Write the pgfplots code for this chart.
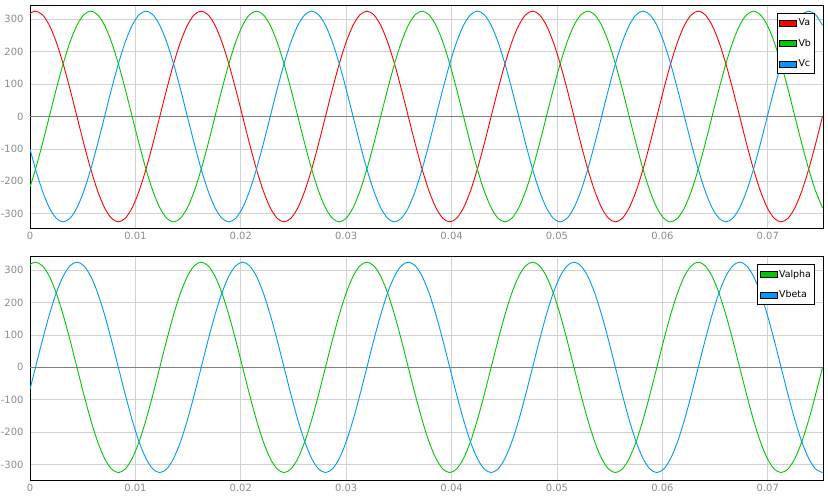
\documentclass[border=0pt]{standalone}
\usepackage{pgfplots}
\pgfplotsset{compat=1.18}
\usepackage{pgfplotstable}
\usepackage{fontspec}
\setmainfont{DejaVu Sans}
\definecolor{cred}{RGB}{255,0,0}
\definecolor{cgreen}{RGB}{0,200,0}
\definecolor{cblue}{RGB}{0,153,255}
\definecolor{tickgray}{RGB}{140,140,140}
\definecolor{gridgray}{RGB}{210,210,210}
\definecolor{zerogray}{RGB}{128,128,128}

\pgfplotstableread{
t va vb vc vbeta
0 317.9 -217.5 -100.4 -67.6
0.000524 325 -162.5 -162.5 0
0.001179 313.9 -84.1 -229.8 84.1
0.001834 281.5 0 -281.5 162.5
0.002489 229.8 84.1 -313.9 229.8
0.003144 162.5 162.5 -325 281.5
0.003799 84.1 229.8 -313.9 313.9
0.004454 0 281.5 -281.5 325
0.005109 -84.1 313.9 -229.8 313.9
0.005764 -162.5 325 -162.5 281.5
0.006419 -229.8 313.9 -84.1 229.8
0.007074 -281.5 281.5 0 162.5
0.007729 -313.9 229.8 84.1 84.1
0.008384 -325 162.5 162.5 0
0.009039 -313.9 84.1 229.8 -84.1
0.009694 -281.5 0 281.5 -162.5
0.010349 -229.8 -84.1 313.9 -229.8
0.011004 -162.5 -162.5 325 -281.5
0.011659 -84.1 -229.8 313.9 -313.9
0.012314 0 -281.5 281.5 -325
0.012969 84.1 -313.9 229.8 -313.9
0.013624 162.5 -325 162.5 -281.5
0.014279 229.8 -313.9 84.1 -229.8
0.014934 281.5 -281.5 0 -162.5
0.015589 313.9 -229.8 -84.1 -84.1
0.016244 325 -162.5 -162.5 0
0.016899 313.9 -84.1 -229.8 84.1
0.017554 281.5 0 -281.5 162.5
0.018209 229.8 84.1 -313.9 229.8
0.018864 162.5 162.5 -325 281.5
0.019519 84.1 229.8 -313.9 313.9
0.020174 0 281.5 -281.5 325
0.020829 -84.1 313.9 -229.8 313.9
0.021484 -162.5 325 -162.5 281.5
0.022139 -229.8 313.9 -84.1 229.8
0.022794 -281.5 281.5 0 162.5
0.023449 -313.9 229.8 84.1 84.1
0.024104 -325 162.5 162.5 0
0.024759 -313.9 84.1 229.8 -84.1
0.025414 -281.5 0 281.5 -162.5
0.026069 -229.8 -84.1 313.9 -229.8
0.026724 -162.5 -162.5 325 -281.5
0.027379 -84.1 -229.8 313.9 -313.9
0.028034 0 -281.5 281.5 -325
0.028689 84.1 -313.9 229.8 -313.9
0.029344 162.5 -325 162.5 -281.5
0.029999 229.8 -313.9 84.1 -229.8
0.030654 281.5 -281.5 0 -162.5
0.031309 313.9 -229.8 -84.1 -84.1
0.031964 325 -162.5 -162.5 0
0.032619 313.9 -84.1 -229.8 84.1
0.033274 281.5 0 -281.5 162.5
0.033929 229.8 84.1 -313.9 229.8
0.034584 162.5 162.5 -325 281.5
0.035239 84.1 229.8 -313.9 313.9
0.035894 0 281.5 -281.5 325
0.036549 -84.1 313.9 -229.8 313.9
0.037204 -162.5 325 -162.5 281.5
0.037859 -229.8 313.9 -84.1 229.8
0.038514 -281.5 281.5 0 162.5
0.039169 -313.9 229.8 84.1 84.1
0.039824 -325 162.5 162.5 0
0.040479 -313.9 84.1 229.8 -84.1
0.041134 -281.5 0 281.5 -162.5
0.041789 -229.8 -84.1 313.9 -229.8
0.042444 -162.5 -162.5 325 -281.5
0.043099 -84.1 -229.8 313.9 -313.9
0.043754 0 -281.5 281.5 -325
0.044409 84.1 -313.9 229.8 -313.9
0.045064 162.5 -325 162.5 -281.5
0.045719 229.8 -313.9 84.1 -229.8
0.046374 281.5 -281.5 0 -162.5
0.047029 313.9 -229.8 -84.1 -84.1
0.047684 325 -162.5 -162.5 0
0.048339 313.9 -84.1 -229.8 84.1
0.048994 281.5 0 -281.5 162.5
0.049649 229.8 84.1 -313.9 229.8
0.050304 162.5 162.5 -325 281.5
0.050959 84.1 229.8 -313.9 313.9
0.051614 0 281.5 -281.5 325
0.052269 -84.1 313.9 -229.8 313.9
0.052924 -162.5 325 -162.5 281.5
0.053579 -229.8 313.9 -84.1 229.8
0.054234 -281.5 281.5 0 162.5
0.054889 -313.9 229.8 84.1 84.1
0.055544 -325 162.5 162.5 0
0.056199 -313.9 84.1 229.8 -84.1
0.056854 -281.5 0 281.5 -162.5
0.057509 -229.8 -84.1 313.9 -229.8
0.058164 -162.5 -162.5 325 -281.5
0.058819 -84.1 -229.8 313.9 -313.9
0.059474 0 -281.5 281.5 -325
0.060129 84.1 -313.9 229.8 -313.9
0.060784 162.5 -325 162.5 -281.5
0.061439 229.8 -313.9 84.1 -229.8
0.062094 281.5 -281.5 0 -162.5
0.062749 313.9 -229.8 -84.1 -84.1
0.063404 325 -162.5 -162.5 0
0.064059 313.9 -84.1 -229.8 84.1
0.064714 281.5 0 -281.5 162.5
0.065369 229.8 84.1 -313.9 229.8
0.066024 162.5 162.5 -325 281.5
0.066679 84.1 229.8 -313.9 313.9
0.067334 0 281.5 -281.5 325
0.067989 -84.1 313.9 -229.8 313.9
0.068644 -162.5 325 -162.5 281.5
0.069299 -229.8 313.9 -84.1 229.8
0.069954 -281.5 281.5 0 162.5
0.070609 -313.9 229.8 84.1 84.1
0.071264 -325 162.5 162.5 0
0.071919 -313.9 84.1 229.8 -84.1
0.072574 -281.5 0 281.5 -162.5
0.073229 -229.8 -84.1 313.9 -229.8
0.073884 -162.5 -162.5 325 -281.5
0.074539 -84.1 -229.8 313.9 -313.9
0.075194 0 -281.5 281.5 -325
}\wave

\pgfplotsset{
  psim/.style={
    scale only axis, width=793bp, height=223bp,
    xmin=0, xmax=0.07524,
    ymin=-344, ymax=344,
    xtick={0,0.01,0.02,0.03,0.04,0.05,0.06,0.07},
    ytick={-300,-200,-100,100,200,300},
    extra y ticks={0},
    extra y tick style={major grid style={zerogray, line width=0.8bp}},
    scaled x ticks=false,
    xticklabel style={/pgf/number format/fixed, /pgf/number format/precision=2, yshift=-1bp},
    yticklabel style={xshift=-3bp},
    /pgf/number format/assume math mode=true,
    tick label style={font=\fontsize{10}{12}\selectfont, text=tickgray},
    major tick length=0pt,
    grid=major, major grid style={gridgray, line width=0.8bp},
    axis line style={black, line width=1bp},
    legend cell align=left,
    legend style={at={(1,1)}, anchor=north east, xshift=-8bp, yshift=-8bp,
      draw=black, line width=1bp, fill=white, text=black,
      font=\fontsize{9.5}{11}\selectfont, row sep=9bp,
      inner xsep=2bp, inner ysep=4bp, nodes={inner sep=1.5bp}},
    every axis plot/.append style={line width=0.9bp, smooth},
  },
  patch/.style={legend image code/.code={\draw[draw=black, fill=#1, line width=0.8bp] (0bp,-3bp) rectangle (17bp,3bp);}},
}

\begin{document}
\begin{tikzpicture}
\useasboundingbox (0,0) rectangle (828bp,-502bp);
\fill[white] (0,0) rectangle (828bp,-502bp);
\begin{axis}[psim, at={(30bp,-5bp)}, anchor=north west]
\addplot[cred, patch=cred] table[x=t, y=va]{\wave};
\addplot[cgreen, patch=cgreen] table[x=t, y=vb]{\wave};
\addplot[cblue, patch=cblue] table[x=t, y=vc]{\wave};
\legend{Va,Vb,Vc}
\end{axis}
\begin{axis}[psim, at={(30bp,-256bp)}, anchor=north west, height=224bp, ymin=-348, ymax=344]
\addplot[cgreen, patch=cgreen] table[x=t, y=va]{\wave};
\addplot[cblue, patch=cblue] table[x=t, y=vbeta]{\wave};
\legend{Valpha,Vbeta}
\end{axis}
\end{tikzpicture}
\end{document}
